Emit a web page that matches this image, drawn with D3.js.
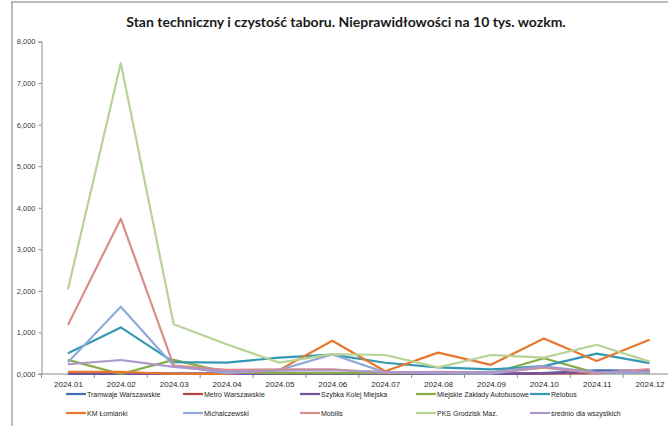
<!DOCTYPE html>
<html><head><meta charset="utf-8">
<script src="https://cdn.jsdelivr.net/npm/d3@7/dist/d3.min.js"></script>
<style>
body{margin:0;background:#fff;}
svg{display:block;font-family:"Liberation Sans",Arial,sans-serif;}
</style></head>
<body><svg id="c" width="668" height="426"></svg>
<script>
const months = ["2024.01","2024.02","2024.03","2024.04","2024.05","2024.06","2024.07","2024.08","2024.09","2024.10","2024.11","2024.12"];
const yTickValues = [0,1000,2000,3000,4000,5000,6000,7000,8000];
const yTickLabels = ["0,000","1,000","2,000","3,000","4,000","5,000","6,000","7,000","8,000"];
const seriesNames = ["Tramwaje Warszawskie","Metro Warszawskie","Szybka Kolej Miejska","Miejskie Zakłady Autobusowe","Relobus","KM Łomianki","Michalczewski","Mobilis","PKS Grodzisk Maz.","średnio dla wszystkich"];
const seriesColors = ["#3F6FB5","#B8433F","#7054A0","#86AC47","#3398B3","#E8772E","#8FAAD9","#D98E8B","#B7D395","#AB97CB"];
const tramwaje   = [10,10,10,10,10,10,10,10,10,20,90,80];
const metro      = [20,20,10,10,10,10,10,10,10,10,20,50];
const skm        = [0,0,0,0,0,0,0,0,0,20,50,50];
const mza        = [340,0,340,40,20,20,20,20,10,380,20,20];
const relobus    = [500,1120,285,275,395,465,270,160,110,190,490,260];
const kmLomianki = [50,50,0,0,100,800,65,515,220,855,315,825];
const michalczewski = [280,1620,200,20,100,470,40,20,10,160,20,30];
const mobilis    = [1180,3735,200,100,110,110,30,50,40,150,20,120];
const pks        = [2035,7480,1195,715,272,478,457,160,457,393,705,297];
const srednio    = [235,337,170,60,80,90,50,40,40,185,40,60];
const seriesValues = [tramwaje,metro,skm,mza,relobus,kmLomianki,michalczewski,mobilis,pks,srednio];

const svg = d3.select("#c");
// outer frame lines
svg.append("line").attr("x1",11).attr("x2",668).attr("y1",2).attr("y2",2).attr("stroke","#A6A6A6").attr("stroke-width",1.5);
svg.append("line").attr("x1",12).attr("x2",12).attr("y1",2).attr("y2",426).attr("stroke","#A6A6A6").attr("stroke-width",1.5);

svg.append("text").attr("x",346).attr("y",27).attr("text-anchor","middle")
  .attr("font-weight","bold").attr("font-size","14px").attr("fill","#1a1a1a")
  .attr("font-family","Lato, 'Liberation Sans', sans-serif")
  .text("Stan techniczny i czystość taboru. Nieprawidłowości na 10 tys. wozkm.");

const x = d3.scalePoint().domain(months).range([41.5,676]).padding(0.5);
const step = x.step();
const y = d3.scaleLinear().domain([0,8000]).range([374,41.5]);

// y axis
const ya = svg.append("g").attr("transform","translate(41.5,0)")
  .call(d3.axisLeft(y).tickValues(yTickValues).tickSize(3).tickPadding(3)
    .tickFormat((d,i)=>yTickLabels[i]));
ya.select(".domain").attr("stroke","#8C8C8C");
ya.selectAll(".tick line").attr("stroke","#8C8C8C");
ya.selectAll(".tick text").attr("font-size","7.5px").attr("fill","#404040").attr("font-family","'Liberation Sans',Arial,sans-serif");

// x axis
const xa = svg.append("g").attr("transform","translate(0,374)")
  .call(d3.axisBottom(x).tickSize(0).tickPadding(7));
xa.select(".domain").remove();
xa.selectAll(".tick text").attr("font-size","8px").attr("fill","#262626").attr("font-family","'Liberation Sans',Arial,sans-serif");
svg.append("line").attr("x1",38.5).attr("x2",668).attr("y1",374).attr("y2",374).attr("stroke","#8C8C8C");
svg.append("g").selectAll("line").data(months.concat(["end"])).join("line")
  .attr("x1",(d,i)=> (i<months.length? x(d)-step/2 : x(months[months.length-1])+step/2))
  .attr("x2",(d,i)=> (i<months.length? x(d)-step/2 : x(months[months.length-1])+step/2))
  .attr("y1",374).attr("y2",378).attr("stroke","#8C8C8C");

// lines
const line = d3.line().x((d,i)=>x(months[i])).y(d=>y(d));
const lg = svg.append("g");
seriesValues.forEach((vals,si)=>{
  lg.append("path").datum(vals).attr("d",line).attr("fill","none")
    .attr("stroke",seriesColors[si]).attr("stroke-width",2.2).attr("stroke-linejoin","round");
});

// legend
const legX = [66,183,300,416,530];
const legY = [394,413];
const leg = svg.append("g");
seriesNames.forEach((n,i)=>{
  const cx = legX[i%5], cy = legY[Math.floor(i/5)];
  leg.append("line").attr("x1",cx).attr("x2",cx+20).attr("y1",cy).attr("y2",cy)
    .attr("stroke",seriesColors[i]).attr("stroke-width",2.2);
  leg.append("text").attr("x",cx+21).attr("y",cy+2.5).attr("font-size","7px").attr("fill","#262626")
    .text(n);
});
</script></body></html>
